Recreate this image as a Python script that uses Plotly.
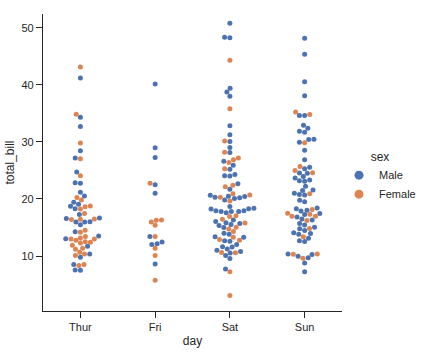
import numpy as np
import plotly.graph_objects as go

# ---------------- data (tips dataset, total_bill by day and sex) ----------------
days = ["Thur", "Fri", "Sat", "Sun"]

thur_bill = [27.20, 22.76, 17.29, 19.44, 16.66, 10.07, 32.68, 15.98, 34.83, 13.03, 18.28, 24.71, 21.16,
             10.65, 12.43, 24.08, 11.69, 13.42, 14.26, 15.95, 12.48, 29.80, 8.52, 14.52, 11.38, 22.82,
             19.08, 20.27, 11.17, 12.26, 18.26, 8.51, 10.33, 14.15, 16.00, 13.16, 17.47, 34.30, 41.19,
             27.05, 16.43, 8.35, 18.64, 11.87, 9.78, 7.51,
             19.81, 28.44, 15.48, 16.58, 7.56, 10.34, 43.11, 13.00, 13.51, 18.71, 12.74, 13.00, 16.40,
             20.53, 16.47, 18.78]
thur_sex = ["M", "M", "M", "M", "M", "F", "M", "M", "F", "M", "M", "M", "M",
            "F", "F", "F", "M", "F", "M", "M", "F", "F", "M", "F", "F", "M",
            "M", "F", "F", "F", "F", "F", "F", "F", "M", "F", "F", "M", "M",
            "F", "F", "F", "F", "F", "M", "M",
            "F", "M", "M", "M", "M", "M", "F", "F", "M", "M", "F", "F", "F",
            "M", "F", "F"]

fri_bill = [28.97, 22.49, 5.75, 16.32, 22.75, 40.17, 27.28, 12.03, 21.01, 12.46, 11.35, 15.38,
            12.16, 13.42, 8.58, 15.98, 13.42, 16.27, 10.09]
fri_sex = ["M", "M", "F", "F", "F", "M", "M", "M", "M", "M", "F", "F",
           "M", "F", "M", "F", "M", "F", "F"]

sat_bill = [20.65, 17.92, 20.29, 15.77, 39.42, 19.82, 17.81, 13.37, 12.69, 21.70, 19.65, 9.55,
            18.35, 15.06, 20.69, 17.78, 24.06, 16.31, 16.93, 18.69, 31.27, 16.04,
            38.01, 26.41, 11.24, 48.27, 20.29, 13.81, 11.02, 18.29, 17.59, 20.08, 16.45, 3.07,
            20.23, 15.01, 12.02, 17.07, 26.86, 25.28, 14.73, 10.51, 17.92,
            44.30, 22.42, 20.92, 15.36, 20.49, 25.21, 18.24, 14.31, 14.00, 7.25,
            10.59, 10.63, 50.81, 15.81,
            26.59, 38.73, 24.27, 12.76, 30.06, 25.89, 48.33, 13.27, 28.17, 12.90, 28.15, 11.59,
            7.74, 30.14,
            20.45, 13.28, 22.12, 24.01, 15.69, 11.61, 10.77, 15.53, 10.07, 12.60, 32.83, 35.83,
            29.03, 27.18, 22.67, 17.82]
sat_sex = ["M", "M", "F", "F", "M", "M", "M", "M", "M", "M", "F", "M",
           "M", "F", "F", "M", "M", "M", "F", "M", "M", "M",
           "M", "F", "M", "M", "M", "M", "M", "M", "M", "M", "F", "F",
           "M", "M", "M", "F", "F", "F", "F", "M", "M",
           "F", "F", "F", "M", "M", "M", "M", "F", "M", "F",
           "F", "F", "M", "M",
           "M", "M", "M", "F", "M", "M", "M", "F", "F", "F", "M", "M",
           "M", "F",
           "M", "M", "F", "M", "M", "M", "M", "M", "M", "M", "M", "F",
           "M", "F", "M", "M"]

sun_bill = [16.99, 10.34, 21.01, 23.68, 24.59, 25.29, 8.77, 26.88, 15.04, 14.78, 10.27, 35.26,
            15.42, 18.43, 14.83, 21.58, 10.33, 16.29, 16.97,
            17.46, 13.94, 9.68, 30.40, 18.29, 22.23, 32.40, 28.55, 18.04, 12.54, 10.29, 34.81,
            9.94, 25.56, 19.49,
            38.07, 23.95, 25.71, 17.31, 29.93,
            14.07, 13.13, 17.26, 24.55, 19.77, 29.85, 48.17, 25.00, 13.39, 16.49, 21.50, 12.66,
            16.21, 13.81, 17.51, 24.52, 20.76, 31.71,
            7.25, 31.85, 16.82, 32.90, 17.89, 14.48, 9.60, 34.63, 34.65, 23.33, 45.35, 23.17,
            40.55, 20.69, 20.90, 30.46, 18.15, 23.10, 15.69]
sun_sex = ["F", "M", "M", "M", "F", "M", "M", "M", "M", "M", "M", "F",
           "M", "M", "F", "M", "F", "M", "F",
           "M", "M", "M", "M", "M", "M", "M", "M", "M", "M", "F", "F",
           "M", "M", "M",
           "M", "M", "F", "F", "M",
           "M", "M", "M", "M", "M", "F", "M", "F", "F", "M", "M", "M",
           "F", "M", "F", "M", "M", "M",
           "M", "M", "M", "M", "M", "M", "F", "M", "M", "M", "M", "M",
           "M", "M", "F", "M", "F", "M", "M"]

day_bills = [thur_bill, fri_bill, sat_bill, sun_bill]
day_sexes = [thur_sex, fri_sex, sat_sex, sun_sex]

sex_levels = ["Male", "Female"]
sex_codes = {"Male": "M", "Female": "F"}
palette = {"M": "#4C72B0", "F": "#DD8452"}

# ---------------- geometry ----------------
W, H = 424, 352
ML, MR, MT, MB = 43, 82, 14, 41
plot_w = W - ML - MR
plot_h = H - MT - MB
YMIN, YMAX = 0.36, 52.42
XMIN, XMAX = -0.5, 3.5
MARKER_D = 5.0


def swarm_offsets(values, r=MARKER_D / 2):
    """Beeswarm placement (seaborn-like) computed in pixel space."""
    sx = plot_w / (XMAX - XMIN)
    sy = plot_h / (YMAX - YMIN)
    ys = np.asarray(values, dtype=float) * sy
    order = np.argsort(ys, kind="stable")
    placed = []
    out = np.zeros(len(ys))
    for idx in order:
        y = ys[idx]
        neigh = []
        for (xj, yj) in reversed(placed):
            if y - yj < 2 * r:
                neigh.append((xj, yj))
            else:
                break
        neigh = neigh[::-1]
        cands = [0.0]
        left = True
        for xj, yj in neigh:
            dy = y - yj
            dx = np.sqrt(max((2 * r) ** 2 - dy ** 2, 0)) * 1.05
            cands.extend([xj - dx, xj + dx] if left else [xj + dx, xj - dx])
            left = not left
        cands = np.array(cands)
        cands = cands[np.argsort(np.abs(cands), kind="stable")]
        chosen = cands[0]
        if neigh:
            nx = np.array([n[0] for n in neigh])
            ny = np.array([n[1] for n in neigh])
            for c in cands:
                if np.all((nx - c) ** 2 + (ny - y) ** 2 >= (2 * r) ** 2):
                    chosen = c
                    break
        placed.append((chosen, y))
        out[idx] = chosen / sx
    return out


fig = go.Figure()
for i, (bills, sexes) in enumerate(zip(day_bills, day_sexes)):
    offs = swarm_offsets(bills)
    fig.add_trace(go.Scatter(
        x=i + offs, y=bills, mode="markers",
        marker=dict(size=MARKER_D, color=[palette[s] for s in sexes], line=dict(width=0)),
        showlegend=False, hoverinfo="y",
    ))

for lvl in sex_levels:
    fig.add_trace(go.Scatter(
        x=[None], y=[None], mode="markers", name=lvl,
        marker=dict(size=9, color=palette[sex_codes[lvl]], line=dict(width=0)),
        showlegend=True,
    ))

ink = "#262626"
font_family = "Liberation Sans, Arial, sans-serif"
fig.update_layout(
    width=W, height=H,
    margin=dict(l=ML, r=MR, t=MT, b=MB, pad=0, autoexpand=False),
    paper_bgcolor="white", plot_bgcolor="white",
    font=dict(family=font_family, size=11, color=ink),
    xaxis=dict(
        range=[XMIN, XMAX], tickvals=list(range(len(days))), ticktext=days,
        showgrid=False, zeroline=False, showline=True, linecolor=ink, linewidth=1.25,
        ticks="outside", ticklen=6, tickwidth=1.25, tickcolor=ink,
        tickfont=dict(size=11, color=ink), automargin=False,
        title=dict(text="day", font=dict(size=12, color=ink), standoff=4),
    ),
    yaxis=dict(
        range=[YMIN, YMAX], tickvals=[10, 20, 30, 40, 50],
        showgrid=False, zeroline=False, showline=True, linecolor=ink, linewidth=1.25,
        ticks="outside", ticklen=6, tickwidth=1.25, tickcolor=ink,
        tickfont=dict(size=11, color=ink), automargin=False,
        title=dict(text="total_bill", font=dict(size=12, color=ink), standoff=4),
    ),
    legend=dict(
        x=0.99, xanchor="left", y=0.451, yanchor="middle",
        title=dict(text="sex", font=dict(size=12, color=ink), side="top center"),
        font=dict(size=11, color=ink), bgcolor="rgba(0,0,0,0)",
        itemsizing="trace",
    ),
)

fig.write_html("out.html")
